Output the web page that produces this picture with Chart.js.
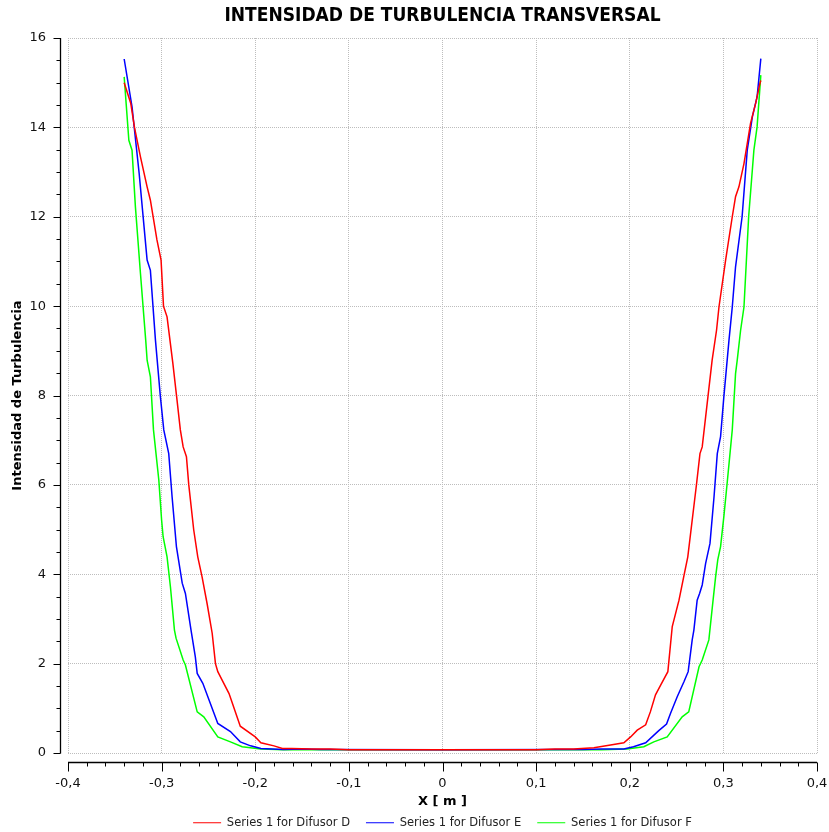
<!DOCTYPE html>
<html>
<head>
<meta charset="utf-8">
<script src="https://cdn.jsdelivr.net/npm/chart.js@4.4.1/dist/chart.umd.min.js"></script>
<style>
  body { margin: 0; background: #fff; }
  #wrap { width: 829px; height: 832px; }
</style>
</head>
<body>
<div id="wrap"><canvas id="turb" width="829" height="832"></canvas></div>
<script>
// Difusor D (red)
const difusorD_x = [-0.340, -0.333, -0.329, -0.3226, -0.3155, -0.312, -0.305, -0.3006, -0.298, -0.2942,
  -0.288, -0.284, -0.280, -0.277, -0.2735, -0.271, -0.2657, -0.2614, -0.2568, -0.2514, -0.246, -0.2425,
  -0.240, -0.228, -0.216, -0.200, -0.194, -0.180, -0.171, -0.161, -0.140, -0.120, -0.100, 0, 0.100,
  0.120, 0.140, 0.1617, 0.1795, 0.1937, 0.2009, 0.208, 0.217, 0.222, 0.2275, 0.233, 0.2407, 0.2454,
  0.2526, 0.258, 0.262, 0.2714, 0.275, 0.2774, 0.2835, 0.288, 0.2927, 0.2953, 0.3024, 0.3095, 0.313,
  0.3166, 0.322, 0.329, 0.3344, 0.339, 0.340];
const difusorD_y = [15.0, 14.54, 14.0, 13.34, 12.67, 12.37, 11.48, 11.03, 10.0, 9.76,
  8.72, 7.98, 7.23, 6.85, 6.63, 6.0, 4.99, 4.39, 3.94, 3.34, 2.68, 2.0,
  1.82, 1.33, 0.60, 0.36, 0.23, 0.16, 0.10, 0.10, 0.09, 0.09, 0.07, 0.07, 0.07,
  0.09, 0.09, 0.12, 0.18, 0.23, 0.36, 0.51, 0.63, 0.92, 1.30, 1.52, 1.82, 2.83,
  3.42, 3.98, 4.39, 6.03, 6.70, 6.85, 7.97, 8.79, 9.46, 9.98, 11.03, 12.0, 12.45,
  12.67, 13.19, 14.09, 14.53, 14.98, 15.05];

// Difusor E (blue)
const difusorE_x = [-0.340, -0.3316, -0.324, -0.3155, -0.312, -0.3066, -0.3013, -0.2977, -0.2924, -0.2888,
  -0.2842, -0.278, -0.2746, -0.2686, -0.264, -0.262, -0.256, -0.240, -0.2265, -0.216, -0.205, -0.194,
  -0.170, -0.150, -0.130, 0, 0.130, 0.150, 0.170, 0.1937, 0.204, 0.217, 0.231, 0.2393, 0.2436, 0.2507,
  0.258, 0.2624, 0.2667, 0.2685, 0.272, 0.2746, 0.2774, 0.2810, 0.2857, 0.290, 0.2935, 0.297, 0.3005,
  0.306, 0.3095, 0.313, 0.320, 0.3255, 0.331, 0.336, 0.340];
const difusorE_y = [15.53, 14.46, 12.97, 11.03, 10.8, 9.24, 7.97, 7.23, 6.70, 5.73,
  4.62, 3.80, 3.57, 2.75, 2.15, 1.78, 1.56, 0.66, 0.48, 0.25, 0.16, 0.10,
  0.08, 0.09, 0.08, 0.07, 0.08, 0.08, 0.09, 0.09, 0.14, 0.23, 0.50, 0.65, 0.89, 1.26,
  1.60, 1.82, 2.53, 2.75, 3.42, 3.57, 3.76, 4.24, 4.69, 5.73, 6.70, 7.08, 7.97,
  9.24, 9.98, 10.88, 12.0, 13.49, 14.24, 14.68, 15.54];

// Difusor F (green)
const difusorF_x = [-0.340, -0.335, -0.3316, -0.328, -0.3226, -0.317, -0.3155, -0.312, -0.3087, -0.303,
  -0.300, -0.2984, -0.2942, -0.2906, -0.2863, -0.2846, -0.277, -0.2746, -0.262, -0.255, -0.240, -0.2265,
  -0.214, -0.194, -0.170, 0, 0.170, 0.197, 0.215, 0.2257, 0.240, 0.256, 0.263, 0.274, 0.2774, 0.2845,
  0.289, 0.2917, 0.294, 0.297, 0.3005, 0.304, 0.3095, 0.313, 0.3148, 0.3184, 0.322, 0.327, 0.3326,
  0.336, 0.340];
const difusorF_y = [15.13, 13.71, 13.49, 12.22, 10.73, 9.24, 8.79, 8.42, 7.23, 6.11,
  5.21, 4.84, 4.39, 3.72, 2.75, 2.57, 2.08, 1.97, 0.92, 0.81, 0.36, 0.25,
  0.14, 0.09, 0.07, 0.07, 0.07, 0.09, 0.14, 0.25, 0.36, 0.81, 0.92, 1.93, 2.08, 2.53,
  3.42, 3.94, 4.32, 4.62, 5.29, 6.03, 7.23, 8.49, 8.79, 9.46, 9.98, 12.0, 13.49,
  14.01, 15.17];

const seriesNames = ["Series 1 for Difusor D", "Series 1 for Difusor E", "Series 1 for Difusor F"];
const chartTitle = "INTENSIDAD DE TURBULENCIA TRANSVERSAL";
const xTitle = "X [ m ]";
const yTitle = "Intensidad de Turbulencia";

const toPoints = (xs, ys) => xs.map((x, i) => ({ x: x, y: ys[i] }));

// AXIS LINES + MINOR TICKS (drawn a few px away from the plot, like the original)
const axisLines = {
  id: "axisLines",
  afterDraw(chart) {
    const {
      ctx,
      chartArea: { left, right, top, bottom },
      scales: { x, y },
    } = chart;
    const ax = left - 7.5;
    const ay = bottom + 9.5;

    ctx.save();
    ctx.strokeStyle = "#000";
    ctx.lineWidth = 1.3;
    ctx.beginPath();
    ctx.moveTo(ax, top);
    ctx.lineTo(ax, bottom + 0.5);
    ctx.moveTo(left, ay);
    ctx.lineTo(right, ay);
    ctx.stroke();

    ctx.lineWidth = 1;
    ctx.beginPath();
    // y ticks every 0.5, major every 2
    for (let i = 0; i <= 32; i++) {
      const py = Math.round(y.getPixelForValue(i * 0.5)) + 0.5;
      const len = i % 4 === 0 ? 7 : 4;
      ctx.moveTo(ax - len, py);
      ctx.lineTo(ax, py);
    }
    // x ticks every 0.02, major every 0.1
    for (let i = 0; i <= 40; i++) {
      const px = Math.round(x.getPixelForValue(-0.4 + i * 0.02)) + 0.5;
      const len = i % 5 === 0 ? 9 : 4;
      ctx.moveTo(px, ay);
      ctx.lineTo(px, ay + len);
    }
    ctx.stroke();
    ctx.restore();
  },
};

Chart.defaults.font.family = "'DejaVu Sans', sans-serif";
Chart.defaults.color = "#111";

const config = {
  type: "scatter",
  data: {
    datasets: [
      {
        label: seriesNames[0],
        data: toPoints(difusorD_x, difusorD_y),
        borderColor: "rgb(255,0,0)",
        backgroundColor: "rgb(255,0,0)",
      },
      {
        label: seriesNames[1],
        data: toPoints(difusorE_x, difusorE_y),
        borderColor: "rgb(0,0,255)",
        backgroundColor: "rgb(0,0,255)",
      },
      {
        label: seriesNames[2],
        data: toPoints(difusorF_x, difusorF_y),
        borderColor: "rgb(0,255,0)",
        backgroundColor: "rgb(0,255,0)",
      },
    ],
  },
  options: {
    responsive: false,
    animation: false,
    showLine: true,
    elements: {
      point: { radius: 0, hoverRadius: 0 },
      line: { borderWidth: 1.5, tension: 0 },
    },
    layout: {
      padding: { top: 0, right: 12, bottom: 0, left: 0 },
    },
    plugins: {
      tooltip: { enabled: false },
      title: {
        display: true,
        text: chartTitle,
        fullSize: false,
        color: "#000",
        font: { size: 19, weight: "bold", family: "'DejaVu Sans Condensed', 'DejaVu Sans'" },
        padding: { top: 5, bottom: 10.2 },
      },
      legend: {
        display: true,
        position: "bottom",
        fullSize: false,
        maxHeight: 31,
        labels: {
          usePointStyle: true,
          pointStyle: "line",
          pointStyleWidth: 28,
          padding: 16,
          color: "#222",
          font: { size: 11.5 },
        },
      },
    },
    scales: {
      x: {
        type: "linear",
        min: -0.4,
        max: 0.4,
        afterFit: (s) => {
          s.height = 48;
        },
        // invisible tick marks push the labels down without widening the right padding
        grid: { color: "#bdbdbd", drawTicks: true, tickLength: 23, tickColor: "rgba(0,0,0,0)" },
        border: { display: false, dash: [1, 1] },
        ticks: {
          stepSize: 0.1,
          padding: 0,
          autoSkip: false,
          maxRotation: 0,
          font: { size: 13 },
          callback: (v) => String(Number(v.toFixed(1))).replace(".", ","),
        },
        title: {
          display: true,
          text: xTitle,
          color: "#000",
          font: { size: 13, weight: "bold" },
          padding: { top: 0, bottom: -8 },
        },
      },
      y: {
        type: "linear",
        min: 0,
        max: 16,
        afterFit: (s) => {
          s.width = 68;
        },
        grid: { color: "#bdbdbd", drawTicks: false },
        border: { display: false, dash: [1, 1] },
        ticks: {
          stepSize: 2,
          padding: 22,
          font: { size: 13 },
        },
        title: {
          display: true,
          text: yTitle,
          color: "#000",
          font: { size: 13, weight: "bold" },
          padding: { top: 10, bottom: 0 },
        },
      },
    },
  },
  plugins: [axisLines],
};

new Chart(document.getElementById("turb"), config);
</script>
</body>
</html>
